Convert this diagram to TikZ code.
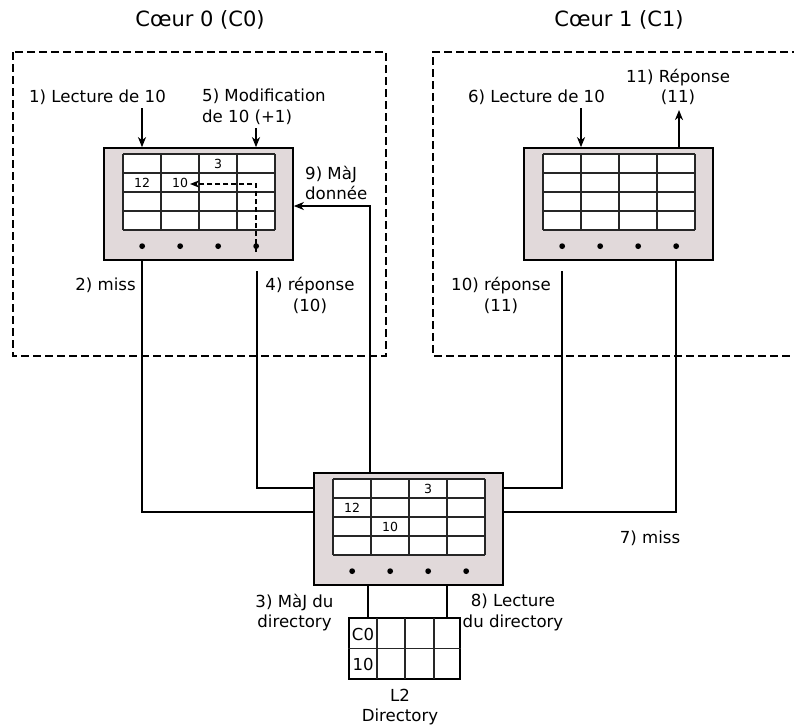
\documentclass[tikz,border=0pt]{standalone}
\usepackage{fontspec}
\setmainfont{DejaVu Sans}
\usetikzlibrary{arrows.meta,calc}
\definecolor{cachegray}{RGB}{225,217,218}
\tikzset{
  lbl/.style={font=\fontsize{16.6}{20.5}\selectfont, align=center, inner sep=0pt},
  title/.style={font=\fontsize{21}{25}\selectfont, inner sep=0pt},
  celltxt/.style={font=\fontsize{12.5}{14}\selectfont, inner sep=0pt},
  dirtxt/.style={font=\fontsize{16.5}{18}\selectfont, inner sep=0pt},
  cachebox/.style={draw, line width=1.7pt, fill=cachegray, minimum width=189pt, minimum height=112pt, inner sep=0pt},
  gridline/.style={line width=1.6pt, draw=black!85},
  conn/.style={line width=1.7pt},
  arr/.style={line width=1.7pt, -{Stealth[length=10pt,width=8pt,inset=3pt]}},
  corebox/.style={line width=1.7pt, dash pattern=on 8pt off 4pt},
  innerdash/.style={line width=1.4pt, dash pattern=on 5pt off 3pt, -{Stealth[length=9pt,width=7pt,inset=2.5pt]}},
}
\newcommand\drawcache[2]{%
  \node[cachebox] (#1) at (#2) {};
  \begin{scope}[shift={(#1.north west)}]
    \fill[white] (20,7) rectangle (172,83);
    \foreach \i in {0,...,4} {
      \draw[gridline] (20+38*\i,7) -- (20+38*\i,83);
      \draw[gridline] (20,7+19*\i) -- (172,7+19*\i);
    }
    \foreach \i in {1,...,4} {
      \fill (1+38*\i,99) circle (2.9);
      \coordinate (#1-d\i) at (1+38*\i,99);
    }
  \end{scope}}
\newcommand\celltext[5]{% cache, col, row, text, name
  \begin{scope}[shift={(#1.north west)}]
    \node[celltxt] (#5) at (20+38*#2-19, 7+19*#3-9.5) {#4};
  \end{scope}}
\begin{document}
\begin{tikzpicture}[x=1pt, y=-1pt]
\useasboundingbox (0,0) rectangle (794,726);

% core boxes
\draw[corebox] (13,52) rectangle (386,356);
\draw[corebox] (800,52) -- (433,52) -- (433,356) -- (800,356);
\node[title] (t0) at (200,20) {Cœur 0 (C0)};
\node[title] (t1) at (619,20) {Cœur 1 (C1)};

% caches
\drawcache{c0}{198.5,204}
\drawcache{c1}{618.5,204}
\drawcache{l2}{408.5,529}
\celltext{c0}{3}{1}{3}{c0v3}
\celltext{c0}{1}{2}{12}{c0v12}
\celltext{c0}{2}{2}{10}{c0v10}
\celltext{l2}{3}{1}{3}{l2v3}
\celltext{l2}{1}{2}{12}{l2v12}
\celltext{l2}{2}{3}{10}{l2v10}

% directory
\node[draw, line width=1.7pt, fill=white, minimum width=111pt, minimum height=61pt, inner sep=0pt] (dir) at (404.5,648.5) {};
\draw[gridline] (dir.west) -- (dir.east);
\foreach \xx in {377,405,434} \draw[gridline] (\xx,618) -- (\xx,679);
\node[dirtxt] (dC0) at (363,634) {C0};
\node[dirtxt] (d10) at (363,664) {10};

% labels
\node[lbl] (l1) at (97.5,97) {1) Lecture de 10};
\node[lbl, anchor=west, align=left] (l5) at (202,107) {5) Modification\\de 10 (+1)};
\node[lbl, anchor=west, align=left] (l9) at (305,183) {9) MàJ\\donnée};
\node[lbl] (l2m) at (105.5,285) {2) miss};
\node[lbl] (l4) at (310,295.5) {4) réponse\\(10)};
\node[lbl] (l6) at (536.5,97) {6) Lecture de 10};
\node[lbl] (l11) at (678,87) {11) Réponse\\(11)};
\node[lbl] (l10) at (501,295.5) {10) réponse\\(11)};
\node[lbl] (l7) at (650,538) {7) miss};
\node[lbl] (l3) at (294.5,612.5) {3) MàJ du\\directory};
\node[lbl] (l8) at (513,612.5) {8) Lecture\\du directory};
\node[lbl] (lL2) at (400,707) {L2\\Directory};

% arrows into / out of caches
\coordinate (a1) at (142,108);
\coordinate (a5) at (256,128);
\coordinate (a6) at (581,108);
\coordinate (a11) at (679,110);
\draw[arr] (a1) -- (a1 |- c0.north);
\draw[arr] (a5) -- (a5 |- c0.north);
\draw[arr] (a6) -- (a6 |- c1.north);
\draw[arr] (a11 |- c1.north) -- (a11);

% internal dashed update
\coordinate (dtip) at (190,184);
\draw[innerdash] ($(c0-d4)+(0,6)$) -- (c0-d4 |- dtip) -- (dtip);

% connectors to L2
\coordinate (yU) at (0,488);
\coordinate (yL) at (0,512);
\coordinate (s4) at (257,271);
\coordinate (s10) at (562,271);
\coordinate (j9) at (370,206);
\draw[conn] (c0.south -| c0-d1) -- (c0-d1 |- yL) -- (yL -| l2.west);
\draw[conn] (s4) -- (s4 |- yU) -- (yU -| l2.west);
\draw[arr] (j9 |- l2.north) -- (j9) -- (j9 -| c0.east);
\draw[conn] (s10) -- (s10 |- yU) -- (yU -| l2.east);
\draw[conn] (c1.south -| c1-d4) -- (c1-d4 |- yL) -- (yL -| l2.east);

% L2 to directory
\coordinate (b1) at (368,600);
\coordinate (b2) at (447,600);
\draw[conn] (b1 |- l2.south) -- (b1 |- dir.north);
\draw[conn] (b2 |- l2.south) -- (b2 |- dir.north);
\end{tikzpicture}
\end{document}
